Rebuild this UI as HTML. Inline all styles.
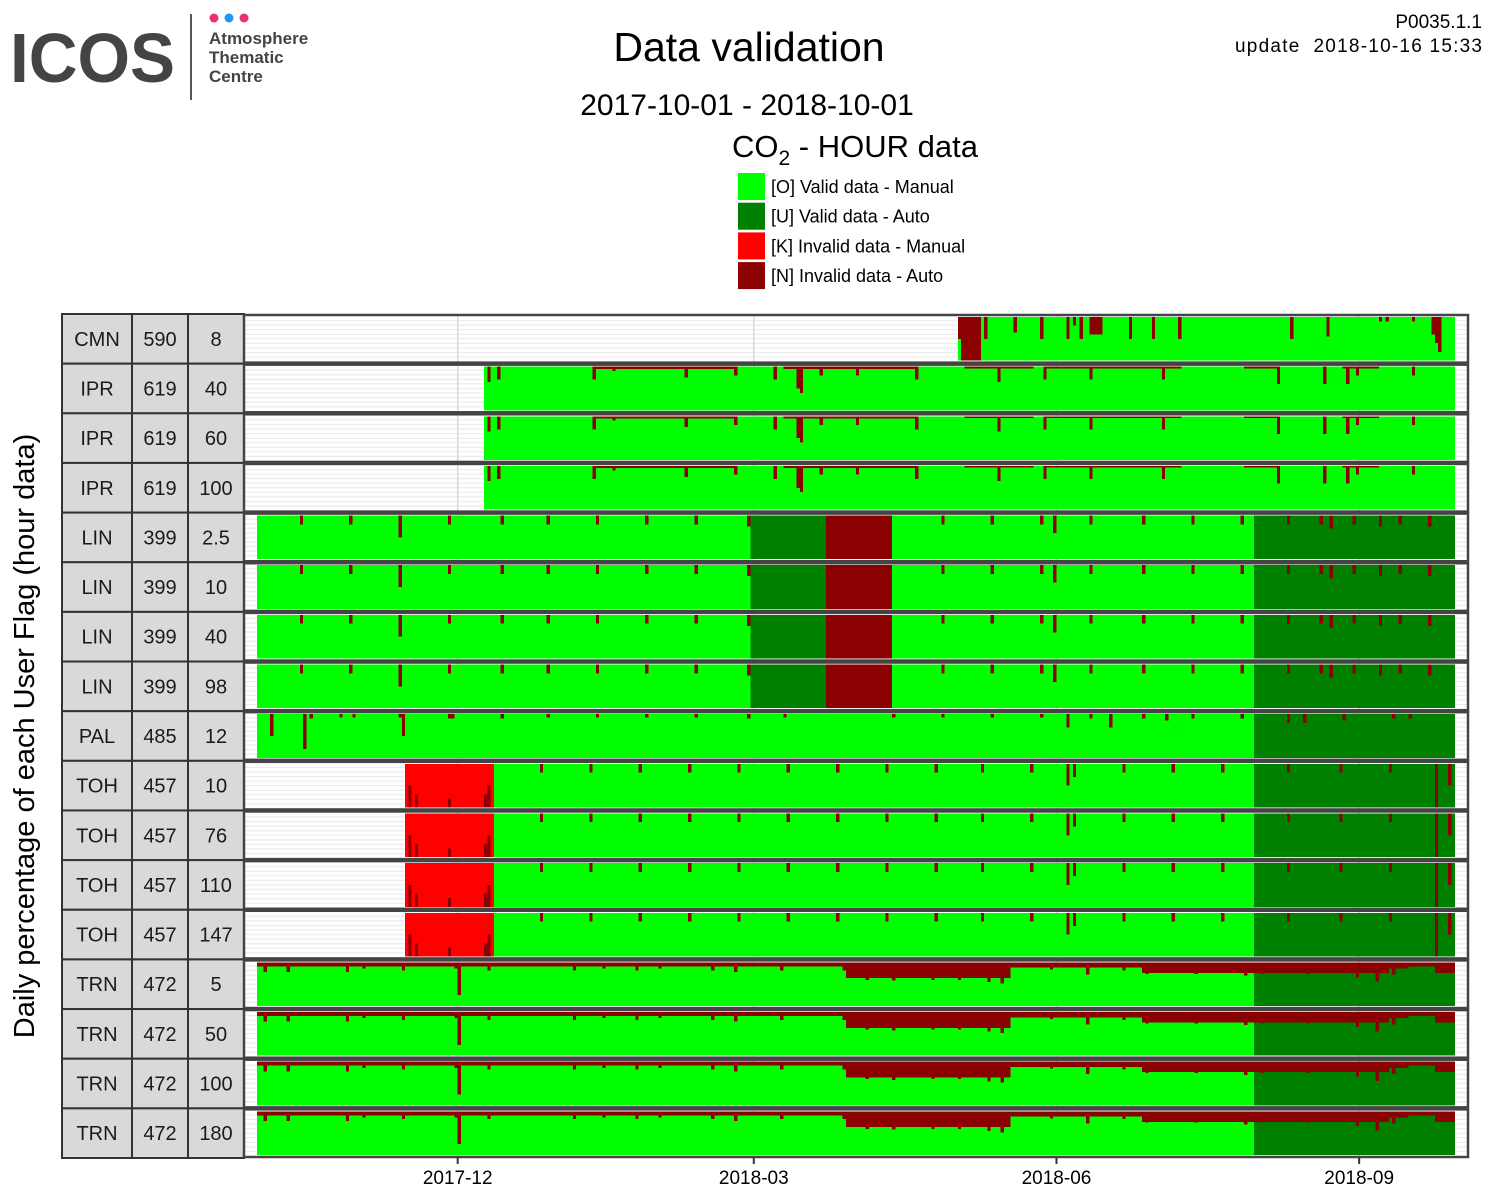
<!DOCTYPE html>
<html><head><meta charset="utf-8"><style>
html,body{margin:0;padding:0;background:#fff;}
svg{display:block;font-family:"Liberation Sans",Arial,sans-serif;}
</style></head><body>
<svg id="chart" width="1495" height="1198" viewBox="0 0 1495 1198">
  <g>
    <text x="10" y="82" font-size="70" font-weight="bold" fill="#444" textLength="165" lengthAdjust="spacingAndGlyphs">ICOS</text>
    <rect x="190" y="14" width="2" height="86" fill="#555"/>
    <circle cx="214" cy="18" r="4.5" fill="#e8336d"/>
    <circle cx="229" cy="18" r="4.5" fill="#2196f3"/>
    <circle cx="244" cy="18" r="4.5" fill="#e8336d"/>
    <text x="209" y="44" font-size="17" font-weight="bold" fill="#444">Atmosphere</text>
    <text x="209" y="63" font-size="17" font-weight="bold" fill="#444">Thematic</text>
    <text x="209" y="82" font-size="17" font-weight="bold" fill="#444">Centre</text>
  </g>
  <text x="749" y="61" font-size="41" text-anchor="middle">Data validation</text>
  <text x="747" y="115" font-size="30" text-anchor="middle">2017-10-01 - 2018-10-01</text>
  <text x="732" y="157" font-size="31">CO<tspan font-size="21" dy="8">2</tspan><tspan dy="-8"> - HOUR data</tspan></text>
  <text x="1482" y="28" font-size="19" text-anchor="end">P0035.1.1</text>
  <text x="1235" y="52" font-size="19" textLength="247" style="white-space:pre">update  2018-10-16 15:33</text>
  <g id="legend"></g>
  <text transform="translate(34,736) rotate(-90)" font-size="29" text-anchor="middle">Daily percentage of each User Flag (hour data)</text>
  <g id="rows"></g>
  <g id="xaxis"></g>
</svg>
<script>
// ---- data ----
const stations = ["CMN","IPR","IPR","IPR","LIN","LIN","LIN","LIN","PAL","TOH","TOH","TOH","TOH","TRN","TRN","TRN","TRN"];
const elevations = ["590","619","619","619","399","399","399","399","485","457","457","457","457","472","472","472","472"];
const heights = ["8","40","60","100","2.5","10","40","98","12","10","76","110","147","5","50","100","180"];
const tickLabels = ["2017-12","2018-03","2018-06","2018-09"];
const tickDays = [61,151,243,335];
const legendLabels = ["[O] Valid data - Manual","[U] Valid data - Auto","[K] Invalid data - Manual","[N] Invalid data - Auto"];
const flagColors = {O:"#00ff00",U:"#008000",K:"#ff0000",N:"#8b0000"};
const legendFlags = ["O","U","K","N"];
const segCMN = [[213,219,"N"],[220,363,"O"]];
const segIPR = [[69,363,"O"]];
const segLIN = [[0,149,"O"],[150,172,"U"],[173,192,"N"],[193,302,"O"],[303,363,"U"]];
const segPAL = [[0,302,"O"],[303,363,"U"]];
const segTOH = [[45,71,"K"],[72,302,"O"],[303,363,"U"]];
const segTRN = [[0,302,"O"],[303,363,"U"]];
const bandIPR = [[102,145,5],[160,200,5],[215,235,4],[240,280,4],[300,310,4],[330,340,4]];
const bandTRN = [[0,178,9],[179,228,36],[229,268,12],[269,302,24],[303,343,24],[344,349,14],[350,358,9],[359,363,24]];
const bandNone = [];
const spikeCMN = [[213,50],[214,100],[221,50],[230,35],[238,50],[246,50],[248,20],[250,50],[253,40],[254,40],[255,40],[256,40],[265,50],[272,50],[280,50],[314,50],[325,45],[341,10],[343,10],[351,10],[357,40],[358,60],[359,80]];
const spikeIPR = [[70,35],[73,30],[102,30],[108,10],[130,25],[145,20],[157,30],[164,50],[165,60],[171,20],[182,20],[200,30],[225,35],[239,30],[253,30],[275,30],[310,40],[324,40],[331,40],[334,20],[351,20]];
const spikeLIN = [[13,20],[28,20],[43,50],[58,20],[74,20],[88,20],[103,20],[118,20],[133,20],[149,25],[208,20],[223,20],[238,20],[242,40],[253,20],[269,20],[284,20],[299,20],[313,20],[323,20],[326,30],[333,20],[341,25],[347,20],[356,25]];
const spikePAL = [[4,50],[14,80],[16,10],[25,8],[29,8],[43,8],[44,50],[58,10],[59,10],[74,10],[88,8],[103,8],[118,8],[133,8],[149,10],[160,8],[193,8],[208,8],[223,8],[238,8],[246,30],[253,10],[259,30],[269,10],[276,15],[284,10],[299,10],[313,20],[318,20],[330,15],[345,10],[350,10]];
const spikeTOH = [[46,50],[48,30],[58,20],[69,30],[70,50],[86,20],[101,20],[116,20],[131,20],[146,20],[161,20],[176,20],[191,20],[206,20],[220,20],[235,20],[246,50],[248,30],[263,20],[278,20],[293,20],[313,20],[329,20],[344,20],[358,100],[362,50]];
const spikeTRN = [[2,22],[9,22],[27,22],[32,14],[44,18],[60,14],[61,75],[70,18],[96,18],[105,14],[115,18],[122,14],[138,18],[145,22],[159,18],[178,18],[185,40],[193,42],[205,40],[213,40],[222,45],[226,48],[230,8],[241,16],[252,28],[263,18],[270,26],[285,26],[300,30],[305,26],[319,26],[334,34],[340,44],[345,28],[358,24]];
const rowSegs = [segCMN,segIPR,segIPR,segIPR,segLIN,segLIN,segLIN,segLIN,segPAL,segTOH,segTOH,segTOH,segTOH,segTRN,segTRN,segTRN,segTRN];
const rowBands = [bandNone,bandIPR,bandIPR,bandIPR,bandNone,bandNone,bandNone,bandNone,bandNone,bandNone,bandNone,bandNone,bandNone,bandTRN,bandTRN,bandTRN,bandTRN];
const rowSpikes = [spikeCMN,spikeIPR,spikeIPR,spikeIPR,spikeLIN,spikeLIN,spikeLIN,spikeLIN,spikePAL,spikeTOH,spikeTOH,spikeTOH,spikeTOH,spikeTRN,spikeTRN,spikeTRN,spikeTRN];

const NS="http://www.w3.org/2000/svg";
const PX0=244, PX1=1468, TOP=314, ROWH=(1158-314)/17;
const DAYW=3.29;
function xScale(d){return 257+d*DAYW;}
function mk(tag,attrs,parent){const e=document.createElementNS(NS,tag);for(const k in attrs)e.setAttribute(k,attrs[k]);parent.appendChild(e);return e;}

const lg=document.getElementById('legend');
legendLabels.forEach((lab,i)=>{
  const y=173+i*29.7;
  const r=mk('rect',{x:738,y:y,width:27,height:27,fill:flagColors[legendFlags[i]]},lg);
  
  
  const t=mk('text',{x:771,y:y+20,'font-size':18},lg);
  t.textContent=lab;
  
  
});

const rowsG=document.getElementById('rows');
for(let i=0;i<stations.length;i++){
  const y0=TOP+i*ROWH, y1=y0+ROWH;
  const g=mk('g',{},rowsG);
  
  
  const cells=[[62,132,stations[i]],[132,188,elevations[i]],[188,244,heights[i]]];
  cells.forEach((c,j)=>{
    const r=mk('rect',{x:c[0],y:y0,width:c[1]-c[0],height:ROWH,fill:'#d9d9d9',stroke:'#333','stroke-width':2},g);
    
    
    const t=mk('text',{x:(c[0]+c[1])/2,y:y0+ROWH/2+7,'font-size':20,'text-anchor':'middle',fill:'#1a1a1a'},g);
    t.textContent=c[2];
    
    
  });
  const bg=mk('rect',{x:PX0,y:y0+2,width:PX1-PX0,height:ROWH-4,fill:'#fff'},g);
  
  
  for(let k=1;k<10;k++){
    const l=mk('line',{x1:PX0,x2:PX1,y1:y0+2+k*(ROWH-4)/10,y2:y0+2+k*(ROWH-4)/10,stroke:'#ececec','stroke-width':1.2},g);
    
    
  }
  tickDays.forEach(d=>{
    const l=mk('line',{x1:xScale(d),x2:xScale(d),y1:y0+2,y2:y1-2,stroke:'#d8d8d8','stroke-width':1.5},g);
    
    
  });
  const bt=y0+3, bh=ROWH-6;
  const segs=rowSegs[i], bands=rowBands[i], spikes=rowSpikes[i];
  const barsG=mk('g',{'shape-rendering':'crispEdges'},g);
  
  
  segs.forEach(s=>{
    for(let d=s[0];d<=s[1];d++){
      let inv=0, sp=null;
      bands.forEach(b=>{if(d>=b[0]&&d<=b[1])inv=Math.max(inv,b[2]);});
      spikes.forEach(p=>{if(p[0]===d){inv=Math.max(inv,p[1]);sp=p[1];}});
      const x=xScale(d), w=DAYW+0.4;
      if(s[2]==='N'){
        const fr=mk('rect',{x:x,y:bt,width:w,height:bh,fill:flagColors.N},barsG);
        
        
        if(sp!==null && sp<100){
          const vh=bh*(100-sp)/100;
          const gr=mk('rect',{x:x,y:bt+bh-vh,width:w,height:vh,fill:flagColors.O},barsG);
          
          
        }
        continue;
      }
      const full=mk('rect',{x:x,y:bt,width:w,height:bh,fill:flagColors[s[2]]},barsG);
      
      
      if(inv>0){
        const ih=bh*inv/100;
        const yy = s[2]==='K' ? bt+bh-ih : bt;
        const r=mk('rect',{x:x,y:yy,width:w,height:ih,fill:flagColors.N},barsG);
        
        
      }
    }
  });
  const bd=mk('rect',{x:PX0,y:y0+1,width:PX1-PX0,height:ROWH-2,fill:'none',stroke:'#444','stroke-width':2.5},g);
  
  
}
const xa=document.getElementById('xaxis');
tickDays.forEach((d,i)=>{
  const l=mk('line',{x1:xScale(d),x2:xScale(d),y1:1158,y2:1164,stroke:'#333','stroke-width':2},xa);
  
  
  const t=mk('text',{x:xScale(d),y:1184,'font-size':19,'text-anchor':'middle'},xa);
  t.textContent=tickLabels[i];
  
  
});
</script>
</body></html>
